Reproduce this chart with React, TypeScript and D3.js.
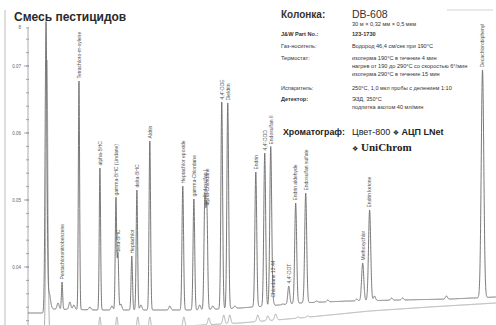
import * as d3 from 'd3';
import React from 'react';

const W = 496;
const H = 325;

// retention time axis, minutes
const runEnd = 25.7;

// labelled peaks: name, retention time (min), signal at apex
const peakNames = [
  '',
  'Pentachloronitrobenzene',
  'Tetrachloro-m-xylene',
  'alpha-BHC',
  'gamma-BHC (Lindane)',
  'beta-BHC',
  'Heptachlor',
  'delta-BHC',
  'Aldrin',
  'Heptachlor epoxide',
  'gamma-Chlordane',
  'Endosulfan I',
  'alpha-Chlordane',
  "4,4'-DDE",
  'Dieldrin',
  'Endrin',
  "4,4'-DDD",
  'Endosulfan II',
  'Chlordane 13.44',
  "4,4'-DDT",
  'Endrin aldehyde',
  'Endosulfan sulfate',
  'Methoxychlor',
  'Endrin ketone',
  'Decachlorobiphenyl',
];
const peakTimes = [
  0.99, 1.87, 2.8, 3.95, 4.83, 4.94, 5.7, 5.98, 6.69, 8.5, 9.11, 9.71, 9.82,
  10.64, 10.97, 12.51, 13.0, 13.33, 13.44, 14.32, 14.7, 15.25, 18.38, 18.76,
  24.96,
];
const peakApex = [
  0.0763, 0.03776, 0.06776, 0.05478, 0.0503, 0.04194, 0.04164, 0.05149,
  0.05881, 0.05209, 0.05015, 0.05, 0.04881, 0.06463, 0.06448, 0.05418,
  0.05701, 0.05791, 0.03507, 0.03716, 0.04955, 0.05104, 0.0406, 0.04851,
  0.0694,
];

// small unlabelled bumps on the main trace
const minorTimes = [
  1.15, 1.65, 2.3, 2.52, 3.4, 4.61, 5.1, 6.2, 7.79, 9.43, 10.15, 11.36, 13.99,
  15.85, 16.46, 18.05, 19.03, 19.97, 20.57, 22.98,
];
const minorApex = [
  0.03612, 0.03463, 0.03478, 0.03433, 0.03403, 0.03418, 0.03448, 0.03433,
  0.03418, 0.03433, 0.03418, 0.03418, 0.03448, 0.03493, 0.03507, 0.03522,
  0.03567, 0.03537, 0.03537, 0.03567,
];

// main trace baseline
const baseTimes = [0, 0.93, 1.2, 3.95, 9.43, 11.63, 13.8, 14.92, 17.66, 20.41, 23.15, 25.7];
const baseLevels = [
  0.03313, 0.03313, 0.03373, 0.03358, 0.03358, 0.03388, 0.03433, 0.03463,
  0.03493, 0.03507, 0.03522, 0.03552,
];

// second (lower) trace
const blankTimes = [
  1.04, 3.95, 4.88, 6.03, 6.69, 8.56, 9.93, 10.75, 11.08, 12.62, 13.17, 13.6,
  14.81, 15.36,
];
const blankApex = [
  0.0709, 0.03254, 0.03254, 0.03254, 0.03254, 0.03254, 0.0324, 0.03284,
  0.03284, 0.03284, 0.03269, 0.03299, 0.03254, 0.03269,
];
const blankBaseTimes = [0, 6.69, 11.63, 14.92, 18.76, 22.05, 25.7];
const blankBaseLevels = [0.03015, 0.0309, 0.03164, 0.03239, 0.03343, 0.03403, 0.03463];

const majorTicks = [0.04, 0.05, 0.06, 0.07];
const minorTicks = d3.range(0.032, 0.0745, 0.002);
const axisTop = 0.0757;
const axisTopLabel = '8';

const title = 'Смесь пестицидов';
const specLabels = [
  'Колонка:',
  'J&W Part No.:',
  'Газ-носитель:',
  'Термостат:',
  'Испаритель:',
  'Детектор:',
];
const specValues = [
  ['DB-608', '30 м × 0,32 мм × 0,5 мкм'],
  ['123-1730'],
  ['Водород 46,4 см/сек при 190°C'],
  [
    'изотерма 190°C в течение 4 мин',
    'нагрев от 190 до 290°C со скоростью 6°/мин',
    'изотерма 290°C в течение 15 мин',
  ],
  ['250°C, 1,0 мкл пробы с делением 1:10'],
  ['ЭЗД, 350°C', 'подпитка азотом 40 мл/мин'],
];

const x = d3.scaleLinear().domain([0, runEnd]).range([28, W]);
const y = d3.scaleLinear().domain([0.04, 0.07]).range([267, 66]);

type Sigma = (t: number, i: number) => number;

function buildTrace(
  bT: number[],
  bL: number[],
  pT: number[],
  pA: number[],
  sigma: Sigma
): [number, number][] {
  const base = d3.scaleLinear().domain(bT).range(bL).clamp(true);
  const amps = pT.map((t, i) => pA[i] - base(t));
  const ts = d3.merge([d3.range(0, runEnd, 0.004), pT]).sort(d3.ascending);
  return ts.map((t) => {
    let v = base(t);
    pT.forEach((p, i) => {
      const z = (t - p) / sigma(p, i);
      if (z * z < 50) v += amps[i] * Math.exp(-0.5 * z * z);
    });
    return [t, v];
  });
}

const mainT = peakTimes.concat(minorTimes);
const mainA = peakApex.concat(minorApex);
const nPeaks = peakTimes.length;
const mainTrace = buildTrace(baseTimes, baseLevels, mainT, mainA, (t, i) => {
  if (i === 0) return 0.05;
  if (i >= nPeaks) return i === nPeaks ? 0.08 : 0.055;
  return 0.03 + 0.0016 * t;
});
const blankTrace = buildTrace(blankBaseTimes, blankBaseLevels, blankTimes, blankApex, (t, i) =>
  i === 0 ? 0.05 : 0.04 + 0.0015 * t
);

const line = d3
  .line<[number, number]>()
  .x((d) => x(d[0]))
  .y((d) => y(d[1]));

const sans = '"Liberation Sans", Arial, sans-serif';

const App: React.FC = () => {
  const rowY = [18, 36, 48, 59.5, 89.5, 101];
  return (
    <svg
      width={W}
      height={H}
      style={{ position: 'absolute', left: 0, top: 0, background: 'white' }}
      fontFamily={sans}
    >
      {/* frame bits */}
      <line x1={5} x2={5} y1={10} y2={H} stroke='#bdbdbd' strokeWidth={1} />
      <line x1={447} x2={493} y1={10} y2={10} stroke='#c8c8c8' strokeWidth={0.8} />

      {/* y axis */}
      <g stroke='#888' strokeWidth={0.7}>
        <line x1={28} x2={28} y1={y(axisTop)} y2={H} />
        {minorTicks.map((t) => (
          <line key={t} x1={26} x2={29} y1={y(t)} y2={y(t)} />
        ))}
        {majorTicks.map((t) => (
          <line key={t} x1={24} x2={29} y1={y(t)} y2={y(t)} />
        ))}
        <line x1={26} x2={29} y1={y(axisTop)} y2={y(axisTop)} />
      </g>
      <g fontSize={4.5} fill='#666' textAnchor='end'>
        {majorTicks.map((t) => (
          <text key={t} x={21} y={y(t)} dy='0.35em'>
            {d3.format('.2f')(t)}
          </text>
        ))}
        <text x={21} y={y(axisTop)} dy='0.35em'>
          {axisTopLabel}
        </text>
      </g>

      {/* traces */}
      <path d={line(blankTrace) || ''} fill='none' stroke='#9c9c9c' strokeWidth={0.8} />
      <path d={line(mainTrace) || ''} fill='none' stroke='#6a6a6a' strokeWidth={0.9} />

      {/* peak labels */}
      <g fontSize={5} fill='#555'>
        {peakNames.map((name, i) =>
          name ? (
            <text
              key={name}
              transform={`translate(${x(peakTimes[i]) + 1.8},${y(peakApex[i]) - 2.5}) rotate(-90)`}
            >
              {name}
            </text>
          ) : null
        )}
      </g>

      {/* title */}
      <text x={14} y={21} fontSize={12} fontWeight='bold' fill='#2a2a2a'>
        {title}
      </text>

      {/* method block */}
      <g fill='#333'>
        {specLabels.map((lab, i) => (
          <text
            key={lab}
            x={281}
            y={rowY[i]}
            fontSize={i === 0 ? 10 : 5.6}
            fontWeight={i === 0 || i === 1 || i === 5 ? 'bold' : 'normal'}
          >
            {lab}
          </text>
        ))}
        {specValues.map((vals, i) =>
          vals.map((v, j) => {
            const big = i === 0 && j === 0;
            const yy = i === 0 ? (j === 0 ? 17.5 : 26) : rowY[i] + j * 8.3;
            return (
              <text
                key={v}
                x={352}
                y={yy}
                fontSize={big ? 10.5 : 5.6}
                fontWeight={i === 1 ? 'bold' : 'normal'}
              >
                {v}
              </text>
            );
          })
        )}
      </g>

      <g fill='#222'>
        <text x={283} y={135} fontSize={8.8} fontWeight='bold'>
          Хроматограф:
        </text>
        <text x={352} y={135} fontSize={9}>
          Цвет-800 <tspan fontFamily='DejaVu Sans' fontSize={7}>❖</tspan>{' '}
          <tspan fontWeight='bold'>АЦП LNet</tspan>
        </text>
        <text x={352} y={151} fontSize={11} fontWeight='bold' fontFamily='"Liberation Serif", serif'>
          <tspan fontFamily='DejaVu Sans' fontSize={7}>❖</tspan> UniChrom
        </text>
      </g>
    </svg>
  );
};

export default App;
